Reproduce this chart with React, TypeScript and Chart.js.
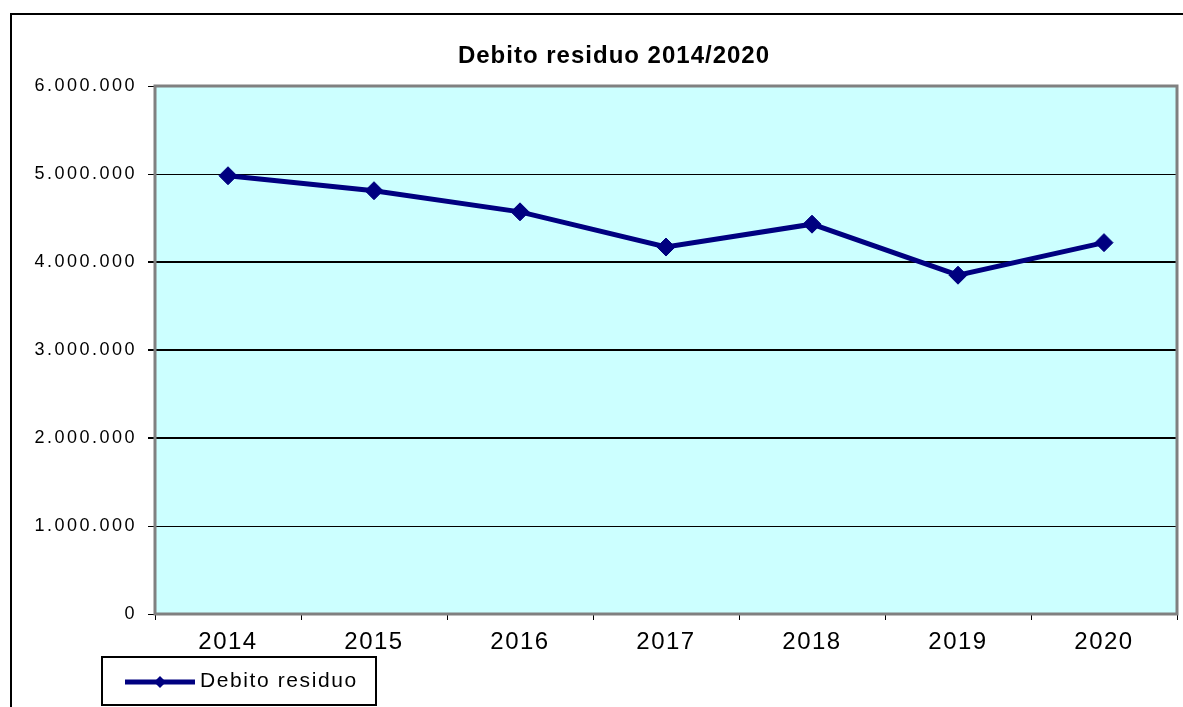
import React, { useEffect, useRef } from 'react';
import { Chart, registerables } from 'chart.js';

Chart.register(...registerables);

const years = ['2014', '2015', '2016', '2017', '2018', '2019', '2020'];
const debitoResiduo = [4980000, 4810000, 4570000, 4170000, 4430000, 3850000, 4220000];
const yTickLabels = ['0', '1.000.000', '2.000.000', '3.000.000', '4.000.000', '5.000.000', '6.000.000'];
const gridWidths = [1, 1, 2, 2, 2, 1, 1];
const chartTitle = 'Debito residuo 2014/2020';
const seriesLabel = 'Debito residuo';

const FONT = '"Liberation Sans", Arial, sans-serif';
const NAVY = '#000080';

const patchSpacing = (chart: any, id: string, sp: string) => {
  const s = chart.scales[id];
  if (!s || s._lsPatched) return;
  const orig = s.drawLabels.bind(s);
  s.drawLabels = (area: any) => {
    const c = s.ctx;
    const prev = c.letterSpacing;
    c.letterSpacing = sp;
    orig(area);
    c.letterSpacing = prev || '0px';
  };
  s._lsPatched = true;
};

const decorPlugin = {
  id: 'decor',
  beforeDraw(chart: any) {
    const { ctx, chartArea: a } = chart;
    ctx.save();
    ctx.fillStyle = '#CCFFFF';
    ctx.fillRect(a.left, a.top, a.right - a.left, a.bottom - a.top);
    ctx.restore();
    patchSpacing(chart, 'x', '1.5px');
    patchSpacing(chart, 'y', '2.5px');
  },
  afterDraw(chart: any) {
    const { ctx, chartArea: a } = chart;
    ctx.save();
    // plot frame
    ctx.strokeStyle = '#808080';
    ctx.lineWidth = 3;
    ctx.strokeRect(a.left, a.top, a.right - a.left, a.bottom - a.top);
    // outer chart border
    ctx.strokeStyle = '#000';
    ctx.lineWidth = 2;
    ctx.strokeRect(11, 14, 1300, 900);
    // title
    ctx.fillStyle = '#000';
    ctx.font = `bold 24px ${FONT}`;
    ctx.letterSpacing = '1px';
    ctx.textAlign = 'center';
    ctx.textBaseline = 'middle';
    ctx.fillText(chartTitle, 614, 56);
    // legend box
    ctx.letterSpacing = '0px';
    ctx.strokeStyle = '#000';
    ctx.lineWidth = 2;
    ctx.fillStyle = '#fff';
    ctx.fillRect(102, 657, 274, 48);
    ctx.strokeRect(102, 657, 274, 48);
    ctx.strokeStyle = NAVY;
    ctx.lineWidth = 5;
    ctx.beginPath();
    ctx.moveTo(125, 682);
    ctx.lineTo(195, 682);
    ctx.stroke();
    ctx.fillStyle = NAVY;
    ctx.beginPath();
    ctx.moveTo(160, 676);
    ctx.lineTo(166, 682);
    ctx.lineTo(160, 688);
    ctx.lineTo(154, 682);
    ctx.closePath();
    ctx.fill();
    ctx.fillStyle = '#000';
    ctx.font = `21px ${FONT}`;
    ctx.letterSpacing = '1.6px';
    ctx.textAlign = 'left';
    ctx.textBaseline = 'middle';
    ctx.fillText(seriesLabel, 200, 681);
    ctx.restore();
  },
};

export default function App() {
  const ref = useRef<HTMLCanvasElement>(null);
  useEffect(() => {
    document.body.style.margin = '0';
    const chart = new Chart(ref.current as HTMLCanvasElement, {
      type: 'line',
      data: {
        labels: years,
        datasets: [
          {
            label: seriesLabel,
            data: debitoResiduo,
            borderColor: NAVY,
            backgroundColor: NAVY,
            borderWidth: 5,
            tension: 0,
            pointStyle: 'rectRot',
            pointRadius: 9,
            pointBorderWidth: 1,
            pointBackgroundColor: NAVY,
            pointBorderColor: NAVY,
          },
        ],
      },
      options: {
        animation: false,
        responsive: false,
        devicePixelRatio: 1,
        layout: { autoPadding: false, padding: { left: 10, right: 6, top: 86, bottom: 53 } },
        plugins: {
          legend: { display: false },
          title: { display: false },
          tooltip: { enabled: false },
        },
        scales: {
          x: {
            offset: true,
            grid: { offset: true, drawOnChartArea: false, drawTicks: true, tickLength: 6, color: '#000', lineWidth: 1 },
            border: { display: false },
            ticks: { color: '#000', font: { family: FONT, size: 24 }, padding: 8, maxRotation: 0, autoSkip: false },
            afterFit: (s: any) => {
              s.height = 40;
              s.paddingLeft = 0;
              s.paddingRight = 0;
            },
          },
          y: {
            min: 0,
            max: 6000000,
            grid: {
              color: '#000',
              lineWidth: (c: any) => gridWidths[c.index] ?? 1,
              tickLength: 7,
              drawTicks: true,
            },
            border: { display: false },
            ticks: {
              stepSize: 1000000,
              color: '#000',
              font: { family: FONT, size: 18 },
              padding: 11,
              callback: (_v: any, i: number) => yTickLabels[i],
            },
            afterFit: (s: any) => {
              s.width = 145;
              s.paddingTop = 0;
              s.paddingBottom = 0;
            },
          },
        },
      },
      plugins: [decorPlugin],
    });
    return () => chart.destroy();
  }, []);
  return (
    <div style={{ position: 'fixed', left: 0, top: 0, width: 1183, height: 707, background: '#fff' }}>
      <canvas ref={ref} width={1183} height={707} />
    </div>
  );
}
